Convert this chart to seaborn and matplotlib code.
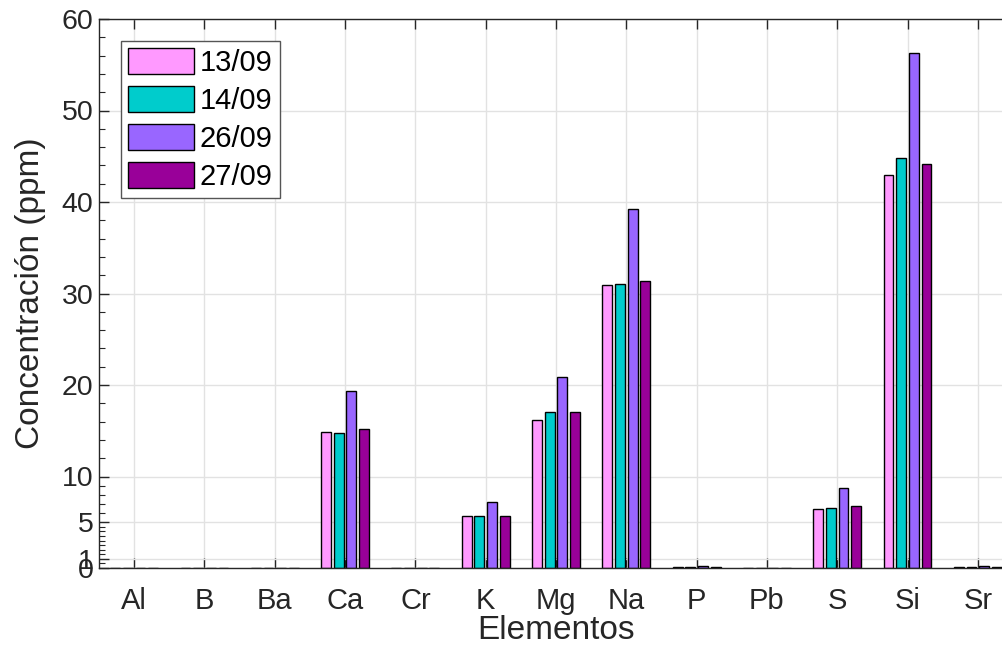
import numpy as np
import pandas as pd
import matplotlib
matplotlib.use("Agg")
import matplotlib.pyplot as plt
from matplotlib.ticker import FixedLocator
import seaborn as sns

elementos = ["Al", "B", "Ba", "Ca", "Cr", "K", "Mg", "Na", "P", "Pb", "S", "Si", "Sr"]
fechas = ["13/09", "14/09", "26/09", "27/09"]
v_1309 = [0.0, 0.0, 0.0, 14.9, 0.0, 5.7, 16.2, 30.9, 0.15, 0.0, 6.5, 42.9, 0.15]
v_1409 = [0.0, 0.0, 0.0, 14.7, 0.0, 5.7, 17.1, 31.0, 0.15, 0.0, 6.6, 44.8, 0.15]
v_2609 = [0.0, 0.0, 0.0, 19.3, 0.0, 7.2, 20.9, 39.2, 0.2, 0.0, 8.7, 56.3, 0.2]
v_2709 = [0.0, 0.0, 0.0, 15.2, 0.0, 5.7, 17.1, 31.4, 0.15, 0.0, 6.8, 44.2, 0.15]
colores = ["#FF99FF", "#00CCCC", "#9966FF", "#990099"]
yticks = [0, 1, 5, 10, 20, 30, 40, 50, 60]

series = [v_1309, v_1409, v_2609, v_2709]
df = pd.DataFrame({
    "Elemento": elementos * len(fechas),
    "Fecha": [f for f in fechas for _ in elementos],
    "Valor": [v for s in series for v in s],
})

sns.set_theme(style="white")
plt.rcParams["font.family"] = ["Liberation Sans", "DejaVu Sans"]

fig = plt.figure(figsize=(10.02, 6.61), dpi=100)
W, H = 1002, 661
left, right, top, bottom = 99, 1013, 19, 568
ax = fig.add_axes([left / W, (H - bottom) / H, (right - left) / W, (bottom - top) / H])

sns.barplot(data=df, x="Elemento", y="Valor", hue="Fecha", order=elementos,
            hue_order=fechas, palette=colores, saturation=1, width=0.72, gap=0.22,
            edgecolor="black", linewidth=1.0, errorbar=None, ax=ax, zorder=3)

ax.set_xlim(-0.5, len(elementos) - 0.5)
ax.set_ylim(0, 60)
ax.set_yticks(yticks)
ax.set_yticklabels([str(t) for t in yticks])
minors = list(np.arange(0, 5, 0.5)) + list(np.arange(5, 10, 1)) + list(np.arange(10, 60, 2))
ax.yaxis.set_minor_locator(FixedLocator(minors))

ax.grid(True, which="major", color="#E2E2E2", linewidth=1.0, zorder=0)
ax.set_axisbelow(True)

dark = "#262626"
for s in ax.spines.values():
    s.set_color(dark)
    s.set_linewidth(1.0)
    s.set_zorder(5)
ax.tick_params(axis="both", which="both", direction="in", colors=dark,
               labelcolor=dark, top=True, right=True, left=True, bottom=True)
ax.tick_params(axis="both", which="major", length=7, width=1.0)
ax.tick_params(axis="x", which="major", labelsize=21, pad=14)
ax.tick_params(axis="y", which="major", labelsize=20.5, pad=4)
ax.tick_params(axis="y", which="minor", length=4, width=0.8)

ax.set_xlabel("Elementos", fontsize=24, color=dark, labelpad=0)
ax.set_ylabel("Concentración (ppm)", fontsize=24, color=dark, labelpad=11)

leg = ax.legend(loc="upper left", bbox_to_anchor=(0.024, 0.96), fontsize=21,
                frameon=True, fancybox=False, edgecolor="#555555",
                handlelength=2.25, handleheight=1.0, labelspacing=0.3,
                handletextpad=0.2, borderpad=0.25, borderaxespad=0.0)
leg.get_frame().set_linewidth(1.0)
leg.get_frame().set_facecolor("white")
leg.get_frame().set_alpha(1.0)
for t in leg.get_texts():
    t.set_color("black")

fig.savefig("out.png", dpi=100)
